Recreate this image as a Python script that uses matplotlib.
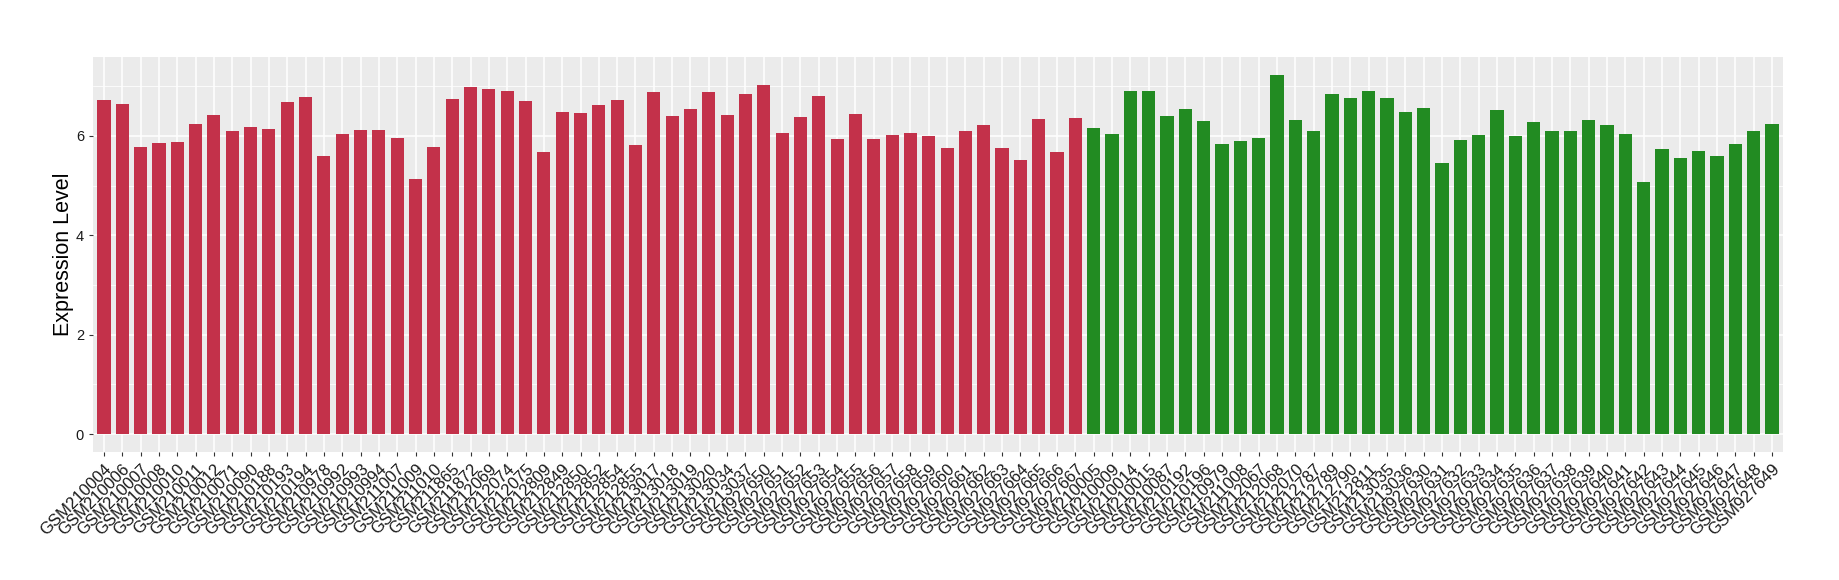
import matplotlib
matplotlib.use("Agg")
import matplotlib.pyplot as plt
import numpy as np
from matplotlib.ticker import MultipleLocator

plt.rcParams['font.family'] = ['Liberation Sans', 'DejaVu Sans']

# samples in group 1 (red)
group1 = ["GSM210004", "GSM210006", "GSM210007", "GSM210008", "GSM210010", "GSM210011",
          "GSM210012", "GSM210071", "GSM210090", "GSM210188", "GSM210193", "GSM210194",
          "GSM210978", "GSM210992", "GSM210993", "GSM210994", "GSM211007", "GSM211009",
          "GSM211010", "GSM211865", "GSM211872", "GSM212069", "GSM212074", "GSM212075",
          "GSM212809", "GSM212849", "GSM212850", "GSM212852", "GSM212854", "GSM212855",
          "GSM213017", "GSM213018", "GSM213019", "GSM213020", "GSM213034", "GSM213037",
          "GSM927650", "GSM927651", "GSM927652", "GSM927653", "GSM927654", "GSM927655",
          "GSM927656", "GSM927657", "GSM927658", "GSM927659", "GSM927660", "GSM927661",
          "GSM927662", "GSM927663", "GSM927664", "GSM927665", "GSM927666", "GSM927667"]
values1 = [6.73, 6.65, 5.78, 5.86, 5.88, 6.24, 6.42, 6.10, 6.18, 6.14, 6.69, 6.79,
           5.60, 6.04, 6.12, 6.12, 5.96, 5.13, 5.78, 6.75, 6.99, 6.95, 6.91, 6.71,
           5.68, 6.48, 6.46, 6.63, 6.73, 5.82, 6.89, 6.40, 6.54, 6.89, 6.42, 6.85,
           7.03, 6.06, 6.38, 6.81, 5.94, 6.44, 5.94, 6.02, 6.06, 6.00, 5.76, 6.10,
           6.22, 5.76, 5.52, 6.34, 5.68, 6.36]

# samples in group 2 (green)
group2 = ["GSM210005", "GSM210009", "GSM210014", "GSM210015", "GSM210087", "GSM210192",
          "GSM210196", "GSM210979", "GSM211008", "GSM212067", "GSM212068", "GSM212070",
          "GSM212787", "GSM212789", "GSM212790", "GSM212811", "GSM213035", "GSM213036",
          "GSM927630", "GSM927631", "GSM927632", "GSM927633", "GSM927634", "GSM927635",
          "GSM927636", "GSM927637", "GSM927638", "GSM927639", "GSM927640", "GSM927641",
          "GSM927642", "GSM927643", "GSM927644", "GSM927645", "GSM927646", "GSM927647",
          "GSM927648", "GSM927649"]
values2 = [6.16, 6.04, 6.91, 6.91, 6.40, 6.54, 6.30, 5.84, 5.90, 5.96, 7.23, 6.32,
           6.10, 6.85, 6.77, 6.91, 6.77, 6.48, 6.57, 5.46, 5.92, 6.02, 6.52, 6.00,
           6.28, 6.10, 6.10, 6.32, 6.22, 6.04, 5.07, 5.74, 5.56, 5.70, 5.60, 5.84,
           6.10, 6.24]

color1 = "#C3314A"
color2 = "#228B22"

labels = group1 + group2
values = values1 + values2
colors = [color1] * len(group1) + [color2] * len(group2)
x = np.arange(1, len(labels) + 1)

fig = plt.figure(figsize=(18.4, 5.8), dpi=100)
ax = fig.add_axes([0.0505, 0.2207, 0.9185, 0.6813])

ax.set_facecolor("#EBEBEB")
ax.bar(x, values, width=0.72, color=colors, zorder=3)

ax.set_xlim(0.4, len(labels) + 0.6)
top = max(values)
ax.set_ylim(-0.05 * top, 1.05 * top)

ax.yaxis.set_major_locator(MultipleLocator(2))
ax.yaxis.set_minor_locator(MultipleLocator(1))
ax.grid(which="major", color="white", linewidth=1.1, zorder=0)
ax.grid(which="minor", axis="y", color="white", linewidth=0.55, zorder=0)
ax.set_axisbelow(True)

ax.set_xticks(x)
ax.set_xticklabels(labels, rotation=45, ha="right", va="top", rotation_mode="anchor",
                   fontsize=12, color="#1a1a1a")
ax.tick_params(axis="y", labelsize=10.5, labelcolor="#1a1a1a")
ax.tick_params(which="major", length=3, width=0.8, color="#333333")
ax.tick_params(which="minor", length=0)

for s in ax.spines.values():
    s.set_visible(False)

ax.set_ylabel("Expression Level", fontsize=15.5, labelpad=1)

fig.savefig("out.png", dpi=100)
